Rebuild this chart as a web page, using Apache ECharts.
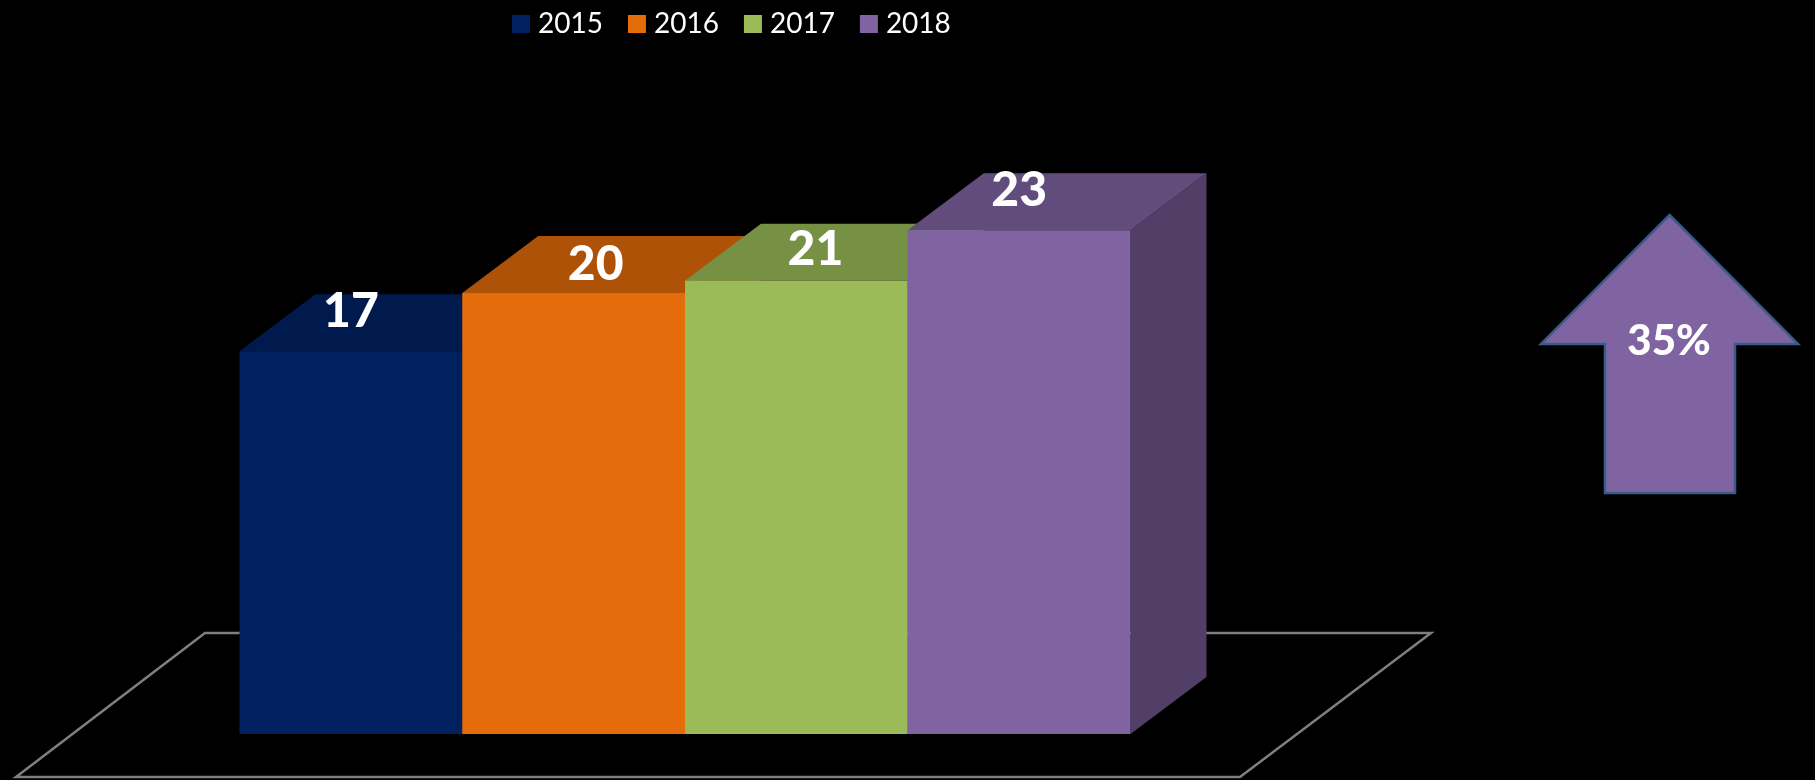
<!DOCTYPE html>
<html>
<head>
<meta charset="utf-8">
<title>2015-2018</title>
<script src="https://cdn.jsdelivr.net/npm/echarts@6/dist/echarts.min.js"></script>
<style>
  html, body { margin: 0; padding: 0; background: #000; }
  #chart { width: 1815px; height: 780px; }
</style>
</head>
<body>
<div id="chart"></div>
<script>
const years = ['2015', '2016', '2017', '2018']
const values = [17.4, 20.05, 20.6, 22.9]
const growthLabel = '35%'

const frontColors = ['#002060', '#E46C0A', '#9BBB59', '#8064A2']
const topColors = ['#001A4D', '#AE5208', '#769044', '#624C7C']
const sideColors = ['#001640', '#974607', '#65793B', '#523F67']

// depth of the fake 3d box
const depthX = 76
const depthY = 57
// labels were moved by hand in the original
const labelNudgeX = [0, 22, 19, 0]
const labelNudgeY = [-40, -28, -31, -40]

const myChart = echarts.init(document.getElementById('chart'))

const renderBox = (index) => (params, api) => {
  const value = api.value(1)
  const bandWidth = api.size([1, 0])[0]
  const center = api.coord([api.value(0), 0])[0]
  const x0 = center - bandWidth / 2
  const x1 = center + bandWidth / 2
  const yTop = api.coord([0, value])[1]
  const yBottom = api.coord([0, 0])[1]

  return {
    type: 'group',
    children: [
      {
        type: 'polygon',
        shape: { points: [[x1, yTop], [x1 + depthX, yTop - depthY], [x1 + depthX, yBottom - depthY], [x1, yBottom]] },
        style: { fill: sideColors[index] }
      },
      {
        type: 'polygon',
        shape: { points: [[x0, yTop], [x1, yTop], [x1 + depthX, yTop - depthY], [x0 + depthX, yTop - depthY]] },
        style: { fill: topColors[index] }
      },
      {
        type: 'rect',
        shape: { x: x0, y: yTop, width: x1 - x0, height: yBottom - yTop },
        style: { fill: frontColors[index] }
      },
      {
        type: 'text',
        x: center + labelNudgeX[index],
        y: yTop + labelNudgeY[index],
        style: {
          text: value.toFixed(0),
          fill: '#fff',
          font: '900 48px Lato',
          align: 'center',
          verticalAlign: 'middle'
        }
      }
    ]
  }
}

const option = {
  backgroundColor: '#000',
  animation: false,
  legend: {
    left: 507,
    top: 5,
    icon: 'rect',
    itemWidth: 18,
    itemHeight: 18,
    itemGap: 25,
    textStyle: {
      color: '#fff',
      fontFamily: 'Lato',
      fontSize: 28,
      padding: [0, 0, 0, 3]
    },
    data: years
  },
  grid: { left: 239.5, right: 684.5, top: 74, bottom: 46 },
  xAxis: { type: 'category', data: years, show: false },
  yAxis: { type: 'value', min: 0, max: 30, show: false },
  graphic: [
    {
      type: 'polygon',
      z: -1,
      shape: { points: [[16, 777], [205, 633], [1431, 633], [1240, 777]] },
      style: { fill: 'none', stroke: '#7F7F7F', lineWidth: 2.5 }
    },
    {
      type: 'polygon',
      z: 10,
      shape: { points: [[1669.5, 215], [1798, 344], [1735, 344], [1735, 493], [1605, 493], [1605, 344], [1541, 344]] },
      style: { fill: '#8064A2', stroke: '#385D8A', lineWidth: 2.5 }
    },
    {
      type: 'text',
      z: 11,
      x: 1669,
      y: 341,
      style: {
        text: growthLabel,
        fill: '#fff',
        font: '900 42px Lato',
        align: 'center',
        verticalAlign: 'middle'
      }
    }
  ],
  series: years.map((year, index) => {
    return {
      name: year,
      type: 'custom',
      coordinateSystem: 'cartesian2d',
      itemStyle: { color: frontColors[index] },
      encode: { x: 0, y: 1 },
      data: [[index, values[index]]],
      renderItem: renderBox(index)
    }
  })
}

myChart.setOption(option)
</script>
</body>
</html>
